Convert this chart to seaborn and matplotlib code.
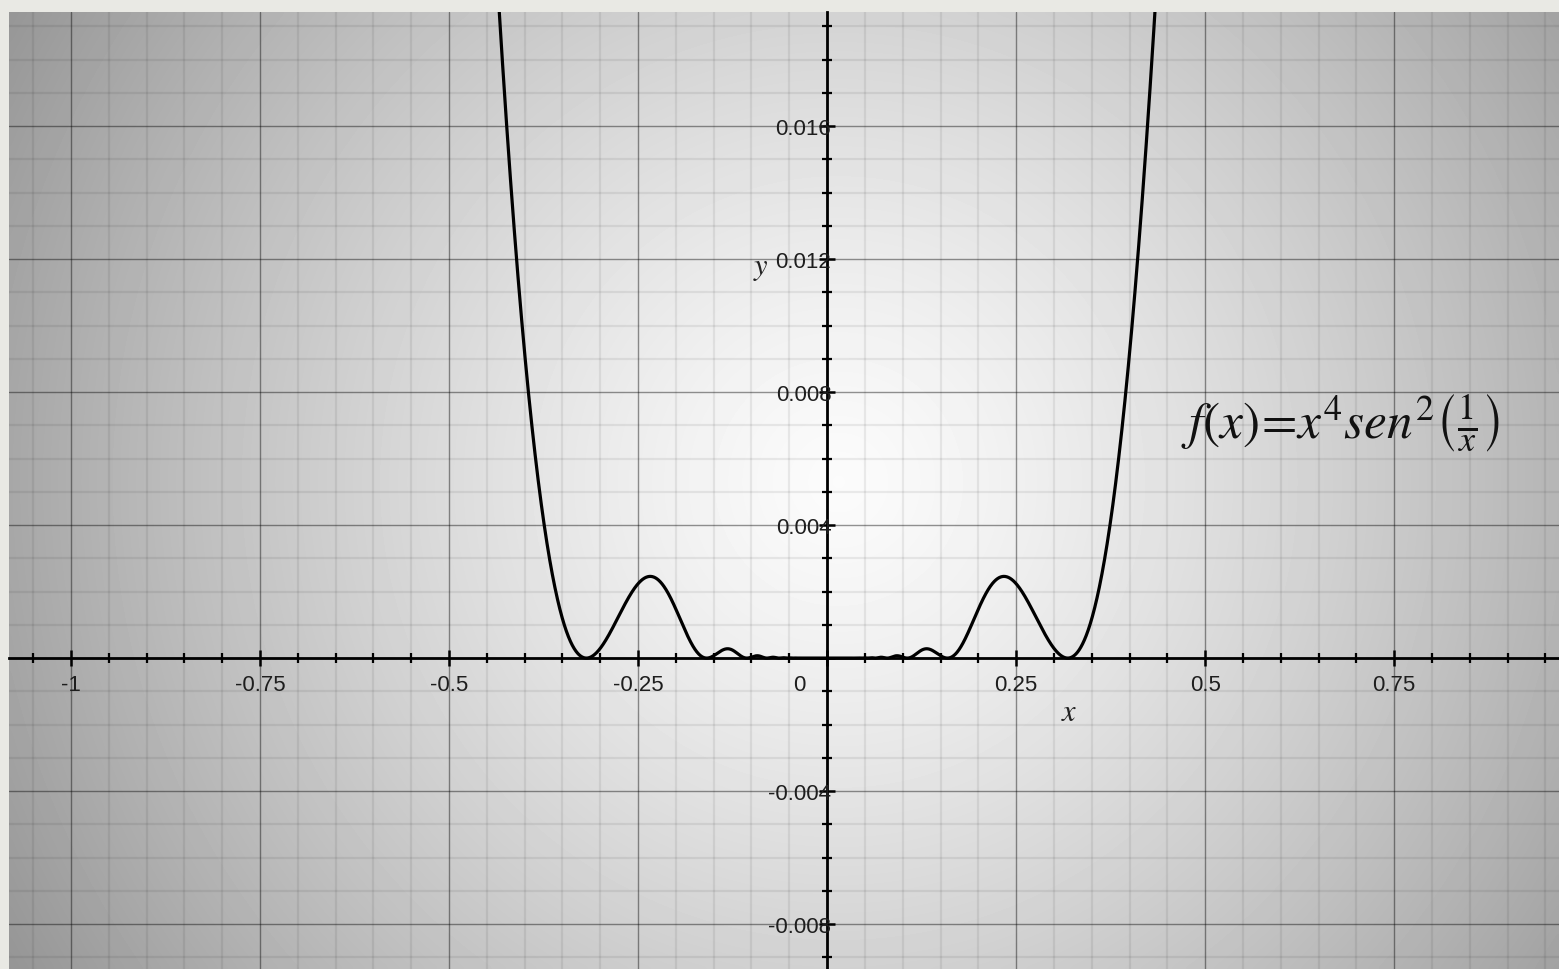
import numpy as np
import matplotlib
matplotlib.use("Agg")
import matplotlib.pyplot as plt
import seaborn as sns

# f(x) = x^4 sen^2(1/x), the function drawn in the reference
x_min, x_max = -1.082, 0.968
y_min, y_max = -0.00935, 0.01943
x_samples = np.linspace(x_min, x_max, 6000)
x_samples = x_samples[x_samples != 0]
y_samples = x_samples ** 4 * np.sin(1 / x_samples) ** 2

xtick_vals = [-1, -0.75, -0.5, -0.25, 0, 0.25, 0.5, 0.75]
xtick_labels = ["-1", "-0.75", "-0.5", "-0.25", "0", "0.25", "0.5", "0.75"]
ytick_vals = [0.016, 0.012, 0.008, 0.004, -0.004, -0.008]
ytick_labels = ["0.016", "0.012", "0.008", "0.004", "-0.004", "-0.008"]

sns.set_theme(style="white")
plt.rcParams["font.family"] = ["Liberation Sans", "DejaVu Sans"]
plt.rcParams["mathtext.fontset"] = "stix"

fig = plt.figure(figsize=(15.59, 9.70), dpi=100, facecolor="#e9e9e4")
ax = fig.add_axes([9 / 1559, 0, 1550 / 1559, 957 / 970])
ax.set_xlim(x_min, x_max)
ax.set_ylim(y_min, y_max)

# radial grey background, brightest near the middle
gx, gy = np.meshgrid(np.linspace(0, 1550, 400), np.linspace(0, 957, 250))
dist = np.hypot(gx - 830, gy - 470)
shade = np.clip(0.985 - 0.34 * (dist / 850) ** 1.3, 0, 1)
ax.imshow(shade, cmap="gray", vmin=0, vmax=1, extent=[x_min, x_max, y_min, y_max],
          origin="upper", aspect="auto", zorder=0, interpolation="bicubic")

# grid
ax.set_xticks(np.arange(-1, 1.0, 0.25))
ax.set_xticks(np.arange(-1.05, 1.0, 0.05), minor=True)
ax.set_yticks(np.arange(-0.008, 0.02, 0.004))
ax.set_yticks(np.arange(-0.009, 0.0195, 0.001), minor=True)
ax.grid(which="major", color="black", alpha=0.42, lw=1.0, zorder=1)
ax.grid(which="minor", color="black", alpha=0.07, lw=1.6, zorder=1)
ax.set_axisbelow(True)

# axes through the origin
for side in ["top", "right"]:
    ax.spines[side].set_visible(False)
ax.spines["left"].set_position(("data", 0))
ax.spines["bottom"].set_position(("data", 0))
for side in ["left", "bottom"]:
    ax.spines[side].set_linewidth(2.0)
    ax.spines[side].set_color("black")
    ax.spines[side].set_zorder(3)
ax.tick_params(which="major", direction="inout", length=11, width=1.8, color="black",
               labelbottom=False, labelleft=False, bottom=True, left=True)
ax.tick_params(which="minor", direction="inout", length=7, width=1.6, color="black",
               bottom=True, left=True)

# curve
sns.lineplot(x=x_samples, y=y_samples, ax=ax, color="black", lw=2.3, zorder=4,
             sort=False, estimator=None)

# tick labels
for v, lab in zip(xtick_vals, xtick_labels):
    dx = -20 if v == 0 else 0
    ax.annotate(lab, (v, 0), xytext=(dx, -19), textcoords="offset points",
                ha="center", va="center", fontsize=16, color="#1e1e1e", zorder=5)
for v, lab in zip(ytick_vals, ytick_labels):
    ax.annotate(lab, (0, v), xytext=(3, -2), textcoords="offset points",
                ha="right", va="center", fontsize=16, color="#1e1e1e", zorder=5)

ax.annotate("$y$", (0, 0.012), xytext=(-48, -6), textcoords="offset points",
            ha="center", va="center", fontsize=22, color="#222222")
ax.annotate("$x$", (0.32, 0), xytext=(0, -39), textcoords="offset points",
            ha="center", va="center", fontsize=22, color="#222222")

ax.text(0.678, 0.0071, r"$f(x)\!=\!x^4 sen^2\left(\frac{1}{x}\right)$",
        ha="center", va="center", fontsize=37, color="#111111", zorder=5)

fig.savefig("out.png", dpi=100, facecolor=fig.get_facecolor())
